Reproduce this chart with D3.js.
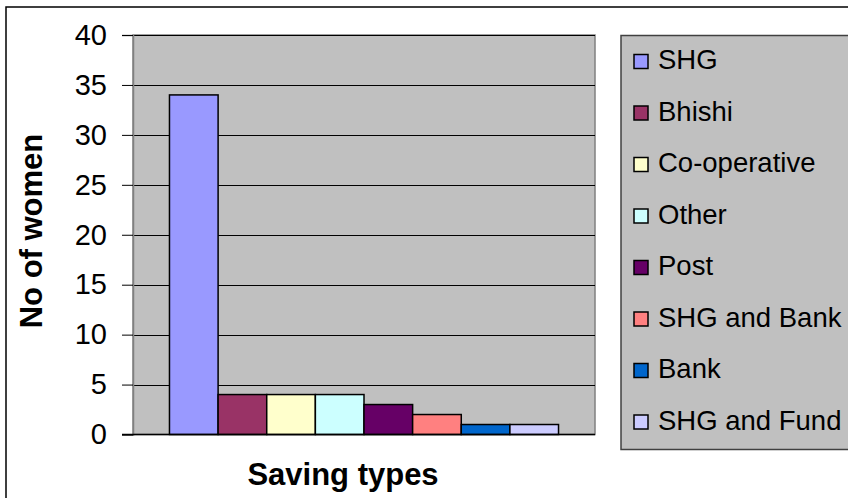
<!DOCTYPE html>
<html>
<head>
<meta charset="utf-8">
<script src="https://cdn.jsdelivr.net/npm/d3@7"></script>
<style>
  html, body { margin: 0; padding: 0; background: #fff; }
  svg { display: block; font-family: Arial, "Liberation Sans", sans-serif; }
</style>
</head>
<body>
<svg id="chart" width="848" height="498"></svg>
<script>
// Saving types and number of women using each
const savingTypes = ["SHG", "Bhishi", "Co-operative", "Other", "Post", "SHG and Bank", "Bank", "SHG and Fund"];
const womenCounts = [34, 4, 4, 4, 3, 2, 1, 1];
const seriesColors = ["#9999FF", "#993366", "#FFFFCC", "#CCFFFF", "#660066", "#FF8080", "#0066CC", "#CCCCFF"];
const yTickValues = [0, 5, 10, 15, 20, 25, 30, 35, 40];

const svg = d3.select("#chart");

// outer chart frame
svg.append("rect")
  .attr("x", 6).attr("y", 7).attr("width", 848).attr("height", 498)
  .attr("fill", "#fff").attr("stroke", "#000").attr("stroke-width", 1.5);

const plot = { left: 133, right: 595, top: 35, bottom: 434.5 };

const y = d3.scaleLinear().domain([0, 40]).range([plot.bottom, plot.top]);

// single category band, series placed side by side with 150% gap width
const band = d3.scaleBand().domain(["all"]).range([plot.left, plot.right]).paddingInner(0).paddingOuter(0);
const barW = band.bandwidth() / (savingTypes.length + 1.5);
const x = d3.scaleBand().domain(savingTypes)
  .range([band("all") + 0.75 * barW, band("all") + band.bandwidth() - 0.75 * barW])
  .padding(0);

// plot area
svg.append("rect")
  .attr("x", plot.left).attr("y", plot.top)
  .attr("width", plot.right - plot.left).attr("height", plot.bottom - plot.top)
  .attr("fill", "#C0C0C0").attr("stroke", "#808080").attr("stroke-width", 1.5);

// gridlines
svg.append("g").selectAll("line")
  .data(yTickValues.filter(d => d > 0))
  .join("line")
  .attr("x1", plot.left).attr("x2", plot.right)
  .attr("y1", d => Math.round(y(d)) + 0.5).attr("y2", d => Math.round(y(d)) + 0.5)
  .attr("stroke", "#000").attr("stroke-width", 1);

// y axis
const yAxis = d3.axisLeft(y).tickValues(yTickValues).tickSize(11).tickPadding(15).tickFormat(d3.format("d"));
const gy = svg.append("g").attr("transform", `translate(${plot.left},0)`).call(yAxis);
gy.select(".domain").attr("stroke", "#808080").attr("stroke-width", 1.5);
gy.selectAll(".tick line").attr("stroke", "#000");
gy.selectAll(".tick text")
  .attr("font-size", 29).attr("fill", "#000")
  .attr("font-family", "Arial, 'Liberation Sans', sans-serif");

// bars
svg.append("g").selectAll("rect")
  .data(savingTypes)
  .join("rect")
  .attr("x", d => x(d))
  .attr("y", (d, i) => y(womenCounts[i]))
  .attr("width", x.bandwidth())
  .attr("height", (d, i) => y(0) - y(womenCounts[i]))
  .attr("fill", (d, i) => seriesColors[i])
  .attr("stroke", "#000").attr("stroke-width", 1.5);

// baseline
svg.append("line")
  .attr("x1", plot.left - 11).attr("x2", plot.right)
  .attr("y1", y(0)).attr("y2", y(0))
  .attr("stroke", "#000").attr("stroke-width", 1.5);

// axis titles
svg.append("text")
  .attr("x", 343).attr("y", 485)
  .attr("text-anchor", "middle")
  .attr("font-size", 31).attr("font-weight", "bold")
  .text("Saving types");

svg.append("text")
  .attr("transform", "translate(42,231) rotate(-90)")
  .attr("text-anchor", "middle")
  .attr("font-size", 31).attr("font-weight", "bold")
  .text("No of women");

// legend
const legend = svg.append("g");
legend.append("rect")
  .attr("x", 621).attr("y", 35.5).attr("width", 240).attr("height", 414)
  .attr("fill", "#C0C0C0").attr("stroke", "#404040").attr("stroke-width", 1.5);

const legendY = d3.scalePoint().domain(savingTypes).range([69, 69 + 51.5 * 7]);
const items = legend.selectAll("g.item")
  .data(savingTypes)
  .join("g").attr("class", "item")
  .attr("transform", d => `translate(0,${legendY(d)})`);
items.append("rect")
  .attr("x", 634).attr("y", -14.5).attr("width", 14).attr("height", 14)
  .attr("fill", (d, i) => seriesColors[i])
  .attr("stroke", "#000").attr("stroke-width", 1.5);
items.append("text")
  .attr("x", 658).attr("y", 0)
  .attr("font-size", 27.5)
  .text(d => d);
</script>
</body>
</html>
